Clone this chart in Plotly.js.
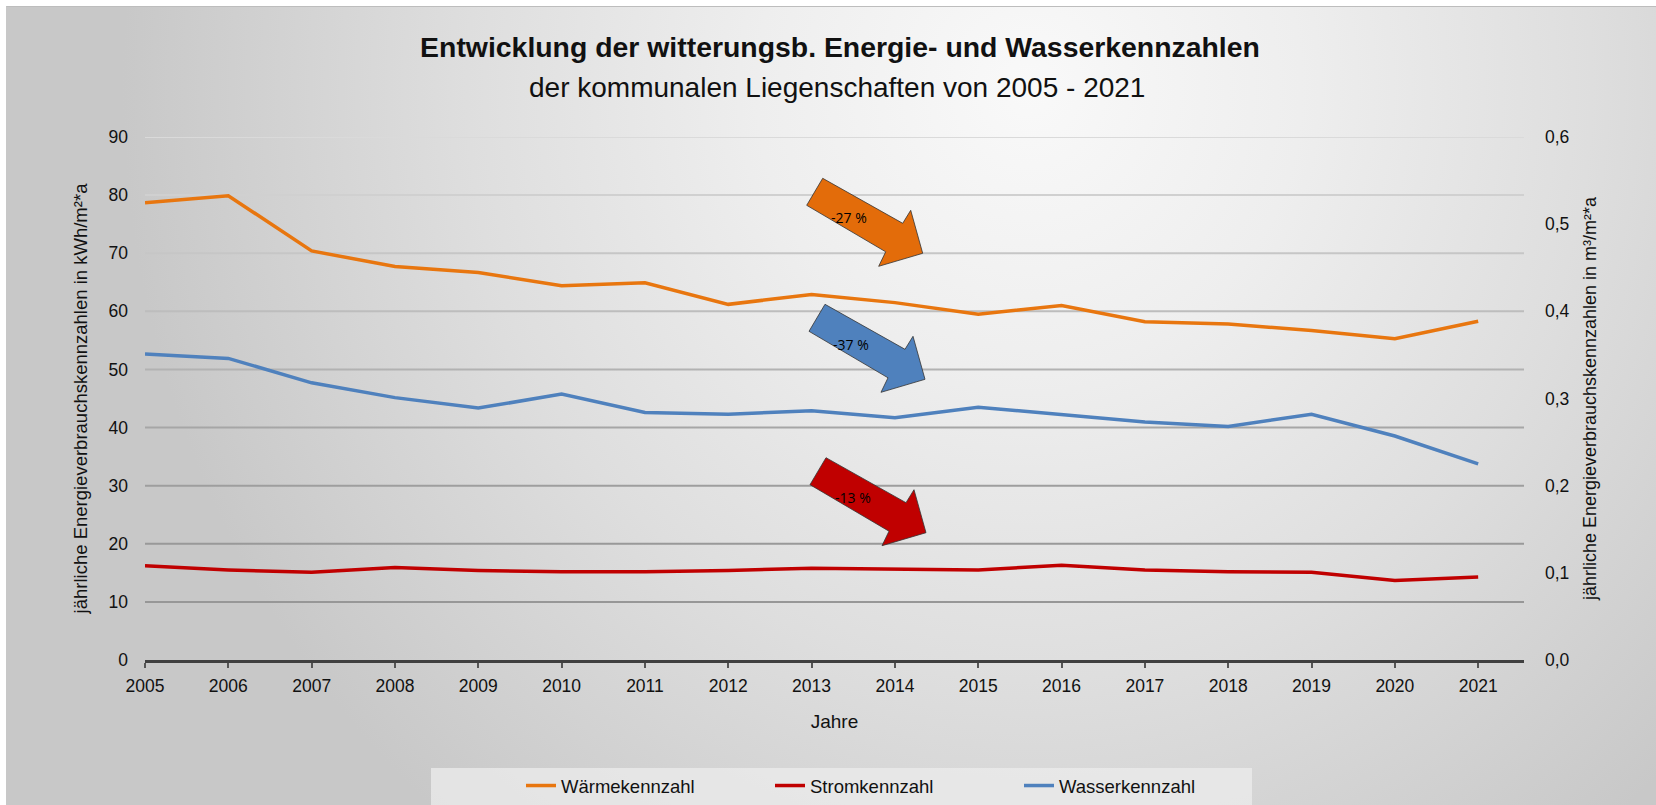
<!DOCTYPE html>
<html>
<head>
<meta charset="utf-8">
<script src="https://cdn.plot.ly/plotly-3.0.1.min.js"></script>
<style>
  html, body { margin: 0; padding: 0; background: #ffffff; width: 1656px; height: 805px; overflow: hidden; }
  #bg {
    position: absolute; left: 6px; top: 6px; width: 1650px; height: 799px;
    border-top: 1px solid #bdbdbd; border-left: 1px solid #c8c8c8; box-sizing: border-box;
    background: radial-gradient(ellipse 55% 120% at 62% 10%, #f9f9f9 0%, #eeeeee 30%, #dedede 62%, #c8c8c8 100%);
  }
  #chart { position: absolute; left: 0; top: 0; width: 1656px; height: 805px; }
</style>
</head>
<body>
<div id="bg"></div>
<div id="chart"></div>
<script>
// ---- data ----
const years = [2005, 2006, 2007, 2008, 2009, 2010, 2011, 2012, 2013, 2014, 2015, 2016, 2017, 2018, 2019, 2020, 2021];
const yearLabels = ["2005", "2006", "2007", "2008", "2009", "2010", "2011", "2012", "2013", "2014", "2015", "2016", "2017", "2018", "2019", "2020", "2021"];
const waermeKennzahl = [78.7, 79.9, 70.4, 67.7, 66.7, 64.4, 64.9, 61.2, 62.9, 61.5, 59.5, 61.0, 58.2, 57.8, 56.7, 55.3, 58.3];
const stromKennzahl = [16.2, 15.5, 15.1, 15.9, 15.4, 15.2, 15.2, 15.4, 15.8, 15.6, 15.5, 16.3, 15.5, 15.2, 15.1, 13.7, 14.3];
const wasserKennzahl = [0.351, 0.346, 0.318, 0.301, 0.289, 0.305, 0.284, 0.282, 0.286, 0.278, 0.290, 0.281, 0.273, 0.268, 0.282, 0.257, 0.225];
const seriesNames = ["Wärmekennzahl", "Stromkennzahl", "Wasserkennzahl"];
const leftTicks = [0, 10, 20, 30, 40, 50, 60, 70, 80, 90];
const rightTicks = [0, 0.1, 0.2, 0.3, 0.4, 0.5, 0.6];
const rightTickLabels = ["0,0", "0,1", "0,2", "0,3", "0,4", "0,5", "0,6"];
const trendLabels = ["-27 %", "-37 %", "-13 %"];

const titleText = "Entwicklung der witterungsb. Energie- und Wasserkennzahlen";
const subtitleText = "der kommunalen Liegenschaften von 2005 - 2021";
const xTitle = "Jahre";
const yTitle = "jährliche Energieverbrauchskennzahlen in kWh/m²*a";
const y2Title = "jährliche Energieverbrauchskennzahlen in m³/m²*a";

// ---- styles ----
const FONT = "'Liberation Sans', Arial, sans-serif";
const colors = { waerme: "#E8760F", strom: "#C00000", wasser: "#4F81BD" };
const arrowFills = ["#E36C0A", "#4F81BD", "#C00000"];
const gridColors = ["#000000", "#979797", "#999999", "#9e9e9e", "#a6a6a6", "#b2b2b2", "#bdbdbd", "#c6c6c6", "#d0d0d0", "#dadada"];

const W = 1656, H = 805, ML = 145, MR = 132, MT = 137, MB = 145;
const PW = W - ML - MR, PH = H - MT - MB;
const px = x => (x - ML) / PW;
const py = y => (H - MB - y) / PH;

// arrow outline (pixel offsets from tail top corner)
const arrowOutline = [[0, 0], [80, 45], [88, 32], [100, 75], [56, 88], [63, 73.5], [-16, 27]];
const arrowAnchors = [[822.7, 178.3], [825, 304.3], [826, 457.7]];
const labelPos = [[849, 217], [851, 344], [853, 497]];

const traces = [
  { x: years, y: waermeKennzahl, name: seriesNames[0], type: "scatter", mode: "lines",
    line: { color: colors.waerme, width: 3.5 }, yaxis: "y", hoverinfo: "skip" },
  { x: years, y: stromKennzahl, name: seriesNames[1], type: "scatter", mode: "lines",
    line: { color: colors.strom, width: 3.5 }, yaxis: "y", hoverinfo: "skip" },
  { x: years, y: wasserKennzahl, name: seriesNames[2], type: "scatter", mode: "lines",
    line: { color: colors.wasser, width: 3.5 }, yaxis: "y2", hoverinfo: "skip" }
];

const shapes = [];
// gridlines
leftTicks.forEach((v, i) => {
  if (v === 0) return;
  shapes.push({ type: "line", xref: "paper", yref: "y", x0: 0, x1: 1, y0: v, y1: v,
    line: { color: gridColors[i], width: 2 }, layer: "below" });
});
// legend box
shapes.push({ type: "rect", xref: "paper", yref: "paper", x0: px(431), x1: px(1252), y0: py(768), y1: py(805),
  fillcolor: "rgba(236,236,236,0.75)", line: { width: 0 }, layer: "below" });
// arrows
arrowAnchors.forEach((a, i) => {
  const pts = arrowOutline.map(p => [px(a[0] + p[0]), py(a[1] + p[1])]);
  const path = "M" + pts.map(p => p[0].toFixed(5) + "," + p[1].toFixed(5)).join(" L") + " Z";
  shapes.push({ type: "path", xref: "paper", yref: "paper", path: path,
    fillcolor: arrowFills[i], line: { color: "#333333", width: 0.8 }, layer: "above" });
});

const annotations = [
  { text: subtitleText, xref: "paper", yref: "paper", x: px(837), y: py(88), xanchor: "center", yanchor: "middle",
    showarrow: false, font: { family: FONT, size: 28, color: "#111111" } }
];
trendLabels.forEach((t, i) => {
  annotations.push({ text: t, xref: "paper", yref: "paper", x: px(labelPos[i][0]), y: py(labelPos[i][1]),
    xanchor: "center", yanchor: "middle", showarrow: false,
    font: { family: "'Open Sans', sans-serif", size: 14, color: "#000000" } });
});

const layout = {
  width: W, height: H,
  margin: { l: ML, r: MR, t: MT, b: MB, autoexpand: false },
  paper_bgcolor: "rgba(0,0,0,0)", plot_bgcolor: "rgba(0,0,0,0)",
  separators: ",.",
  font: { family: FONT, size: 18, color: "#111111" },
  title: { text: "<b>" + titleText + "</b>", x: 840 / W, xanchor: "center", xref: "container",
    y: 1 - 47 / H, yanchor: "middle", yref: "container",
    font: { family: FONT, size: 28.4, color: "#111111" } },
  xaxis: {
    range: [2005, 2021.55], tickvals: years, ticktext: yearLabels,
    showgrid: false, zeroline: false, showline: true, linecolor: "#404040", linewidth: 3,
    ticks: "outside", ticklen: 5, tickwidth: 2, tickcolor: "#555555",
    ticklabelstandoff: 3,
    tickfont: { family: FONT, size: 17.5, color: "#111111" },
    title: { text: xTitle, font: { family: FONT, size: 19, color: "#111111" }, standoff: 20 },
    fixedrange: true
  },
  yaxis: {
    range: [0, 90], tickvals: leftTicks, showgrid: false, zeroline: false, showline: false, ticks: "",
    ticklabelstandoff: 16,
    tickfont: { family: FONT, size: 17.5, color: "#111111" },
    title: { text: yTitle, font: { family: FONT, size: 18.5, color: "#111111" }, standoff: 16 },
    fixedrange: true
  },
  yaxis2: {
    range: [0, 0.6], tickvals: rightTicks, ticktext: rightTickLabels, overlaying: "y", side: "right",
    showgrid: false, zeroline: false, showline: false, ticks: "",
    ticklabelstandoff: 20,
    tickfont: { family: FONT, size: 17.5, color: "#111111" },
    title: { text: y2Title, font: { family: FONT, size: 18, color: "#111111" }, standoff: 14 },
    fixedrange: true
  },
  showlegend: true,
  legend: {
    orientation: "h", xref: "paper", yref: "paper", x: px(521), xanchor: "left", y: py(786), yanchor: "middle",
    bgcolor: "rgba(0,0,0,0)", entrywidth: 204, entrywidthmode: "pixels",
    font: { family: FONT, size: 18.5, color: "#111111" }
  },
  shapes: shapes,
  annotations: annotations,
  hovermode: false
};

Plotly.newPlot("chart", traces, layout, { displayModeBar: false, staticPlot: true });
</script>
</body>
</html>
